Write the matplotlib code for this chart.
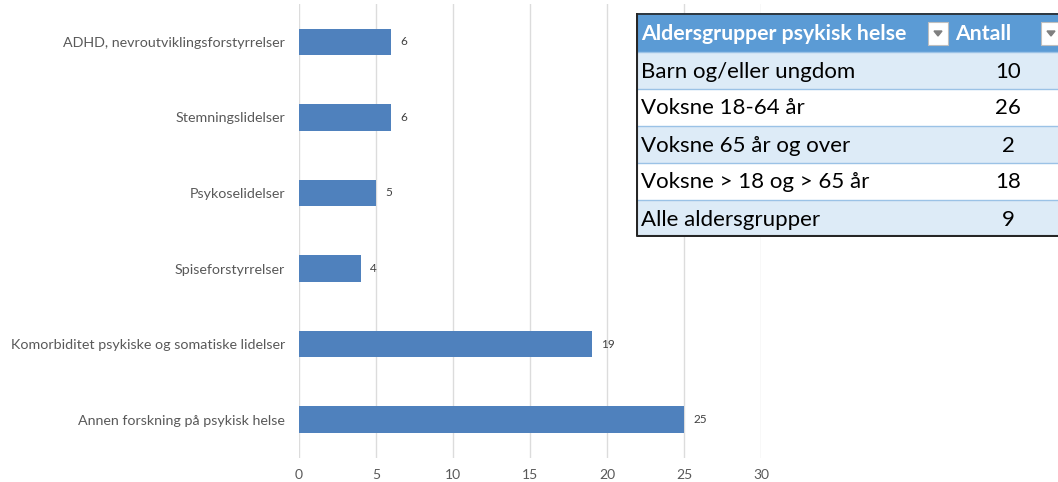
import matplotlib.pyplot as plt
from matplotlib.patches import Rectangle

# bar chart data (top to bottom as shown)
categories = ["ADHD, nevroutviklingsforstyrrelser", "Stemningslidelser", "Psykoselidelser",
              "Spiseforstyrrelser", "Komorbiditet psykiske og somatiske lidelser",
              "Annen forskning på psykisk helse"]
values = [6, 6, 5, 4, 19, 25]

# overlay table data
table_header = ["Aldersgrupper psykisk helse", "Antall"]
age_groups = ["Barn og/eller ungdom", "Voksne 18-64 år", "Voksne 65 år og over",
              "Voksne > 18 og > 65 år", "Alle aldersgrupper"]
age_counts = [10, 26, 2, 18, 9]

plt.rcParams['font.family'] = ['Lato', 'DejaVu Sans']

W, H = 1058, 482
fig = plt.figure(figsize=(W / 100, H / 100), dpi=100)
ax = fig.add_axes([299 / W, 24.5 / H, (761 - 299) / W, (482 - 24.5 - 4) / H])

y = list(range(len(categories)))[::-1]
ax.barh(y, values, height=0.35, color="#4f81bd", zorder=3)
for yi, v in zip(y, values):
    ax.text(v + 0.6, yi, str(v), va="center", ha="left", fontsize=8.5, color="#404040")

ax.set_yticks(y)
ax.set_yticklabels(categories, fontsize=10.3, color="#595959")
ax.set_xlim(0, 30)
ax.set_ylim(-0.5, len(categories) - 0.5)
ax.set_xticks(range(0, 31, 5))
ax.tick_params(axis="x", labelsize=10, colors="#595959", length=0, pad=8)
ax.tick_params(axis="y", length=0, pad=10)
ax.grid(axis="x", color="#dcdcdc", linewidth=1, zorder=0)
for s in ax.spines.values():
    s.set_visible(False)

# table overlay
tx0, ty0, tx1, ty1 = 636, 13, 1058, 237
tax = fig.add_axes([tx0 / W, (H - ty1) / H, (tx1 - tx0) / W, (ty1 - ty0) / H])
tax.set_xlim(0, tx1 - tx0)
tax.set_ylim(ty1 - ty0, 0)
tax.axis("off")

header_h = 39
row_h = (ty1 - ty0 - header_h) / len(age_groups)
col_split = 314
tax.add_patch(Rectangle((0, 0), 440, header_h, color="#5b9bd5"))
tax.text(5, header_h / 2 + 1, table_header[0], color="white", fontsize=15.3, fontweight="bold",
         va="center", ha="left")
tax.text(col_split + 5, header_h / 2 + 1, table_header[1], color="white", fontsize=15.3,
         fontweight="bold", va="center", ha="left")
for bx in (292, 405):
    tax.add_patch(Rectangle((bx, 9), 20, 23, facecolor="white", edgecolor="#bfbfbf", lw=0.8))
    tax.fill([bx + 6, bx + 14, bx + 10], [18, 18, 23], color="#7f7f7f")

for i, (g, c) in enumerate(zip(age_groups, age_counts)):
    top = header_h + i * row_h
    fc = "#ddebf7" if i % 2 == 0 else "white"
    tax.add_patch(Rectangle((0, top), 440, row_h, facecolor=fc, edgecolor="none"))
    tax.plot([0, 440], [top, top], color="#9bc2e6", lw=1)
    tax.text(5, top + row_h / 2 + 1, g, fontsize=16, color="black", va="center", ha="left")
    tax.text(372, top + row_h / 2 + 1, str(c), fontsize=16, color="black", va="center", ha="center")

tax.plot([1, 1, 440], [0, ty1 - ty0 - 1, ty1 - ty0 - 1], color="#262626", lw=1.5)
tax.plot([0, 440], [0.5, 0.5], color="#262626", lw=1.2)

fig.savefig("out.png", dpi=100)
